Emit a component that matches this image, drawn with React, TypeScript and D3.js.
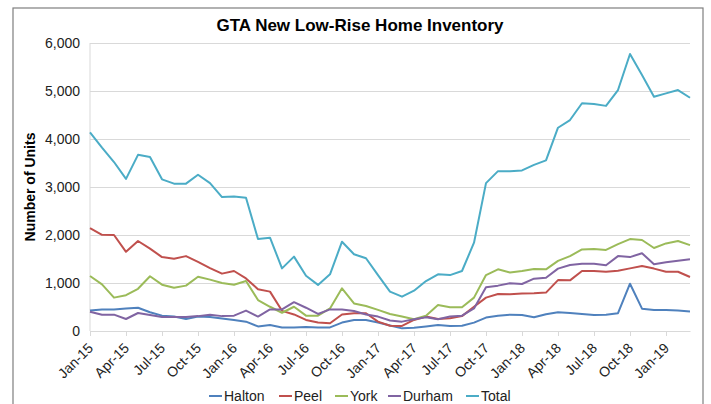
import React, { useEffect, useRef } from 'react';
import * as d3 from 'd3';

// Monthly, Jan-15 .. Mar-19
const monthNames = ['Jan', 'Feb', 'Mar', 'Apr', 'May', 'Jun', 'Jul', 'Aug', 'Sep', 'Oct', 'Nov', 'Dec'];
const months: string[] = [];
for (let y = 15; y <= 19; y++) {
  for (let m = 0; m < 12; m++) {
    if (y === 19 && m > 2) break;
    months.push(`${monthNames[m]}-${y}`);
  }
}

const halton = [425, 450, 450, 470, 485, 390, 320, 300, 250, 300, 290, 260, 230, 195, 95, 125, 75, 75, 85, 75, 75, 175, 230, 230, 175, 115, 55, 70, 95, 125, 105, 110, 175, 280, 320, 340, 335, 285, 350, 390, 375, 355, 335, 340, 370, 985, 465, 440, 440, 425, 405];
const peel = [2145, 2005, 2000, 1650, 1875, 1715, 1540, 1505, 1560, 1440, 1310, 1195, 1250, 1095, 870, 820, 420, 345, 230, 175, 160, 345, 370, 370, 195, 110, 105, 230, 300, 250, 265, 310, 505, 695, 770, 765, 780, 785, 800, 1060, 1055, 1250, 1250, 1235, 1255, 1305, 1355, 1300, 1235, 1235, 1125];
const york = [1145, 970, 695, 745, 880, 1140, 965, 900, 945, 1130, 1070, 1000, 965, 1040, 645, 505, 380, 505, 320, 320, 470, 890, 575, 520, 440, 355, 300, 245, 320, 540, 495, 495, 695, 1165, 1285, 1220, 1250, 1290, 1285, 1460, 1560, 1700, 1710, 1690, 1810, 1915, 1895, 1730, 1825, 1875, 1790];
const durham = [400, 340, 340, 250, 375, 335, 290, 290, 290, 310, 340, 310, 320, 425, 300, 450, 450, 600, 485, 355, 450, 450, 415, 345, 300, 220, 195, 245, 285, 245, 300, 320, 470, 910, 945, 995, 980, 1090, 1110, 1300, 1375, 1400, 1400, 1370, 1560, 1540, 1620, 1390, 1430, 1465, 1495];
const total = [4140, 3820, 3520, 3170, 3670, 3625, 3160, 3070, 3070, 3255, 3080, 2790, 2800, 2775, 1915, 1945, 1305, 1550, 1150, 960, 1180, 1860, 1600, 1515, 1165, 820, 715, 840, 1040, 1180, 1165, 1250, 1840, 3080, 3330, 3330, 3345, 3460, 3555, 4235, 4395, 4745, 4730, 4690, 5020, 5770, 5335, 4880, 4950, 5020, 4860];

const seriesNames = ['Halton', 'Peel', 'York', 'Durham', 'Total'];
const seriesValues = [halton, peel, york, durham, total];
const seriesColors = ['#4F81BD', '#C0504D', '#9BBB59', '#8064A2', '#4BACC6'];
const legendX = [209, 279, 335, 388, 466];

const yTicks = [0, 1000, 2000, 3000, 4000, 5000, 6000];

const W = 711;
const H = 404;
const FONT = "'Liberation Sans', Arial, sans-serif";

const App: React.FC = () => {
  const svgRef = useRef<SVGSVGElement>(null);

  useEffect(() => {
    if (!svgRef.current) return;
    const svg = d3.select(svgRef.current);
    svg.selectAll('*').remove();

    const plot = { left: 90, right: 690, top: 43, bottom: 331 };

    const x = d3.scalePoint<string>().domain(months).range([plot.left, plot.right]);
    const y = d3.scaleLinear().domain([0, 6000]).range([plot.bottom, plot.top]);

    svg.append('rect')
      .attr('width', W).attr('height', H).attr('fill', '#fff');

    // chart border
    svg.append('rect')
      .attr('x', 13).attr('y', 8)
      .attr('width', 690).attr('height', 420)
      .attr('fill', 'none')
      .attr('stroke', '#7f7f7f')
      .attr('stroke-width', 1.2);

    // title
    svg.append('text')
      .attr('x', 360).attr('y', 31)
      .attr('text-anchor', 'middle')
      .attr('font-family', FONT)
      .attr('font-weight', 'bold')
      .attr('font-size', 17)
      .attr('fill', '#000')
      .text('GTA New Low-Rise Home Inventory');

    // y grid + labels
    const yAxis = d3.axisLeft(y)
      .tickValues(yTicks)
      .tickSize(-(plot.right - plot.left))
      .tickPadding(10)
      .tickFormat(d3.format(','));

    const yG = svg.append('g')
      .attr('transform', `translate(${plot.left},0)`)
      .call(yAxis);
    yG.select('.domain').remove();
    yG.selectAll('line').attr('stroke', '#d9d9d9').attr('stroke-width', 1);
    yG.selectAll('text')
      .attr('fill', '#222')
      .attr('font-family', FONT)
      .attr('font-size', 14);

    // vertical axis line
    svg.append('line')
      .attr('x1', plot.left).attr('x2', plot.left)
      .attr('y1', plot.top).attr('y2', plot.bottom)
      .attr('stroke', '#d9d9d9');

    // x axis
    const tickMonths = months.filter((_, i) => i % 3 === 0);
    const xAxis = d3.axisBottom(x)
      .tickValues(tickMonths)
      .tickSize(5)
      .tickSizeOuter(0)
      .tickFormat(() => '');
    const xG = svg.append('g')
      .attr('transform', `translate(0,${plot.bottom})`)
      .call(xAxis);
    xG.select('.domain').attr('stroke', '#d9d9d9');
    xG.selectAll('line').attr('stroke', '#d9d9d9');

    svg.append('g')
      .selectAll('text')
      .data(tickMonths)
      .enter().append('text')
      .attr('transform', d => `translate(${(x(d) ?? 0) + 4},${plot.bottom + 18}) rotate(-45)`)
      .attr('text-anchor', 'end')
      .attr('font-family', FONT)
      .attr('font-size', 14)
      .attr('fill', '#222')
      .text(d => d);

    // y axis title
    svg.append('text')
      .attr('transform', `translate(35,${(plot.top + plot.bottom) / 2}) rotate(-90)`)
      .attr('text-anchor', 'middle')
      .attr('font-family', FONT)
      .attr('font-weight', 'bold')
      .attr('font-size', 14)
      .attr('fill', '#000')
      .text('Number of Units');

    // series lines
    const line = d3.line<number>()
      .x((_, i) => x(months[i]) ?? 0)
      .y(d => y(d));

    seriesValues.forEach((vals, k) => {
      svg.append('path')
        .datum(vals)
        .attr('fill', 'none')
        .attr('stroke', seriesColors[k])
        .attr('stroke-width', 2)
        .attr('stroke-linejoin', 'round')
        .attr('d', line);
    });

    // legend
    const lg = svg.append('g');
    seriesNames.forEach((name, k) => {
      const lx = legendX[k];
      lg.append('line')
        .attr('x1', lx).attr('x2', lx + 13)
        .attr('y1', 396).attr('y2', 396)
        .attr('stroke', seriesColors[k])
        .attr('stroke-width', 2);
      lg.append('text')
        .attr('x', lx + 15).attr('y', 401)
        .attr('font-family', FONT)
        .attr('font-size', 14)
        .attr('fill', '#222')
        .text(name);
    });
  }, []);

  return (
    <svg
      ref={svgRef}
      width={W}
      height={H}
      style={{ position: 'absolute', left: 0, top: 0, display: 'block' }}
    />
  );
};

export default App;
